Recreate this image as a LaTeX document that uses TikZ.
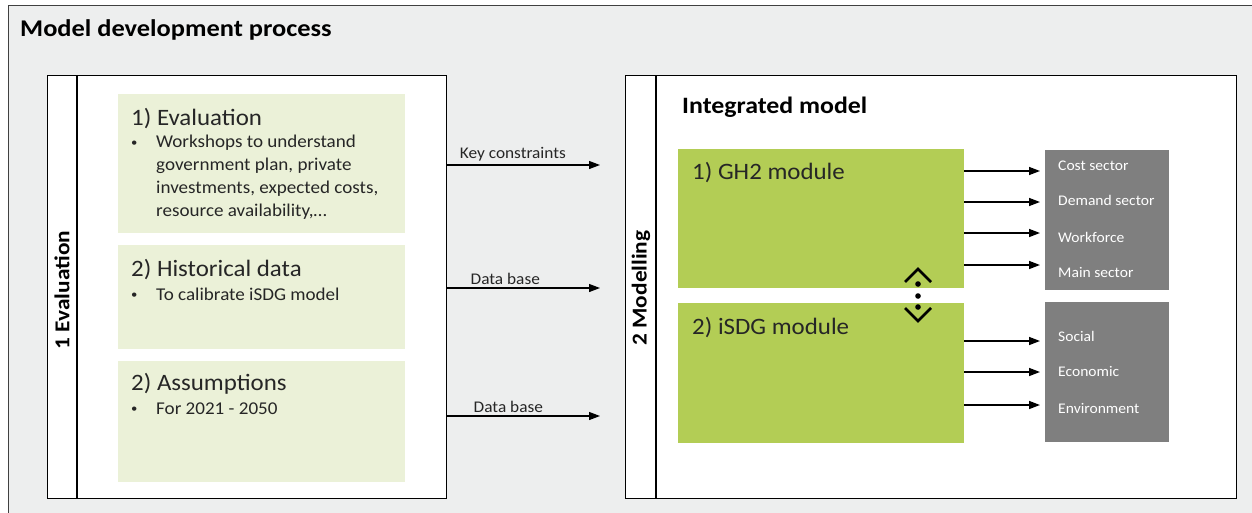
\documentclass[tikz,border=0pt]{standalone}
\usepackage{fontspec}
\setmainfont{Carlito}[FakeStretch=1.06]
\newfontfamily\headfont{Carlito}[FakeStretch=1.1]
\usetikzlibrary{arrows.meta,positioning}

\definecolor{framegray}{HTML}{EDEEEE}
\definecolor{palegreen}{HTML}{EBF1D8}
\definecolor{modgreen}{HTML}{B3CD55}
\definecolor{sectorgray}{HTML}{7F7F7F}
\definecolor{inkgray}{HTML}{262626}

\newcommand{\bulletmark}{\makebox[25pt][l]{\raisebox{1.5pt}{\fontsize{12}{12}\selectfont\textbullet}}}
\newcommand{\bulletgap}{\hspace*{25pt}}

\begin{document}
\begin{tikzpicture}[x=1pt, y=-1pt, >={Triangle[length=11pt,width=8pt]},
  outer/.style={draw=black!75, line width=1.2pt, fill=framegray, anchor=north west, inner sep=0pt},
  panel/.style={draw=black, line width=1.2pt, fill=white, anchor=north west, inner sep=0pt},
  inputbox/.style={fill=palegreen, anchor=north west, minimum width=287pt, inner sep=0pt},
  module/.style={fill=modgreen, anchor=north west, minimum width=286pt, inner sep=0pt},
  sector/.style={fill=sectorgray, anchor=north west, minimum width=124pt, minimum height=140pt, inner sep=0pt},
  boxhead/.style={anchor=base west, inner sep=0pt, text=inkgray, font=\fontsize{23.5}{27}\selectfont},
  boxtext/.style={anchor=base west, inner sep=0pt, align=left, text=inkgray, font=\fontsize{18}{22.7}\selectfont},
  sidelabel/.style={rotate=90, inner sep=0pt, font=\headfont\fontsize{21.2}{25}\selectfont\bfseries},
  flowlabel/.style={above, inner sep=3pt, text=inkgray, font=\fontsize{16.3}{19}\selectfont},
  sectortext/.style={anchor=west, inner sep=0pt, text=white, font=\fontsize{14.7}{18}\selectfont}
]
\useasboundingbox (0,0) rectangle (1252,512);

% outer frame and title
\node[outer, minimum width=1270pt, minimum height=530pt] (frame) at (8,5) {};
\node[anchor=base west, inner sep=0pt, font=\headfont\fontsize{24}{28}\selectfont\bfseries] (title) at (20,36) {Model development process};

% evaluation panel
\node[panel, minimum width=399pt, minimum height=423pt] (evalpanel) at (47,75) {};
\draw[line width=1.2pt] ([xshift=30pt]evalpanel.north west) -- ([xshift=30pt]evalpanel.south west);
\node[sidelabel] (evallabel) at (62,290) {1 Evaluation};

\foreach \n/\y/\h in {1/94/139, 2/245/104, 3/361/121}
  \node[inputbox, minimum height=\h pt] (in\n) at (118,\y) {};

\node[boxhead] (head1) at (131,125) {1) Evaluation};
\node[boxhead] (head2) at (131,276) {2) Historical data};
\node[boxhead] (head3) at (131,390) {2) Assumptions};

% base of a multi-line node sits on its last line
\node[boxtext] (text1) at (131,216) {\bulletmark Workshops to understand\\
  \bulletgap government\ plan, private\\
  \bulletgap investments, expected\ costs,\\
  \bulletgap resource availability,\ldots};
\node[boxtext] (text2) at (131,300) {\bulletmark To calibrate iSDG model};
\node[boxtext] (text3) at (131,414) {\bulletmark For 2021 - 2050};

% flows into the model
\coordinate (c1) at (600,165);
\coordinate (c2) at (600,288);
\coordinate (c3) at (600,416);
\draw[->, line width=1.2pt] (evalpanel.east |- c1) -- node[flowlabel, pos=0.43] {Key constraints} (c1);
\draw[->, line width=1.2pt] (evalpanel.east |- c2) -- node[flowlabel, pos=0.38] {Data base} (c2);
\draw[->, line width=1.2pt] (evalpanel.east |- c3) -- node[flowlabel, pos=0.40] {Data base} (c3);

% modelling panel
\node[panel, minimum width=611pt, minimum height=423pt] (modelpanel) at (625,75) {};
\draw[line width=1.2pt] ([xshift=31pt]modelpanel.north west) -- ([xshift=31pt]modelpanel.south west);
\node[sidelabel] (modlabel) at (641,288) {2 Modelling};
\node[anchor=base west, inner sep=0pt, font=\headfont\fontsize{23.5}{27}\selectfont\bfseries] (intlabel) at (682,113) {Integrated model};

\node[module, minimum height=139pt] (gh2) at (678,149) {};
\node[module, minimum height=140pt] (isdg) at (678,303) {};
\node[boxhead] (gh2head) at (692,179) {1) GH2 module};
\node[boxhead] (isdghead) at (692,334) {2) iSDG module};

\node[sector] (gh2out) at (1045,150) {};
\node[sector] (isdgout) at (1045,302) {};

\foreach \y/\ly/\t in {171/166/Cost sector, 202/200/Demand sector, 233/237/Workforce, 265/272/Main sector} {
  \draw[->, line width=1.4pt] (gh2.east |- 0,\y) -- (1040,\y);
  \node[sectortext] at (1058,\ly) {\t};
}
\foreach \y/\ly/\t in {341/336/Social, 372/371/Economic, 405/408/Environment} {
  \draw[->, line width=1.4pt] (isdg.east |- 0,\y) -- (1040,\y);
  \node[sectortext] at (1058,\ly) {\t};
}

% link between the modules
\draw[line width=2.6pt] (905,282) -- (918,269) -- (931,282);
\draw[line width=2.6pt] (905,308) -- (918,321) -- (931,308);
\foreach \y in {284,296,307}
  \fill (918,\y) circle (2.8pt);

\end{tikzpicture}
\end{document}
